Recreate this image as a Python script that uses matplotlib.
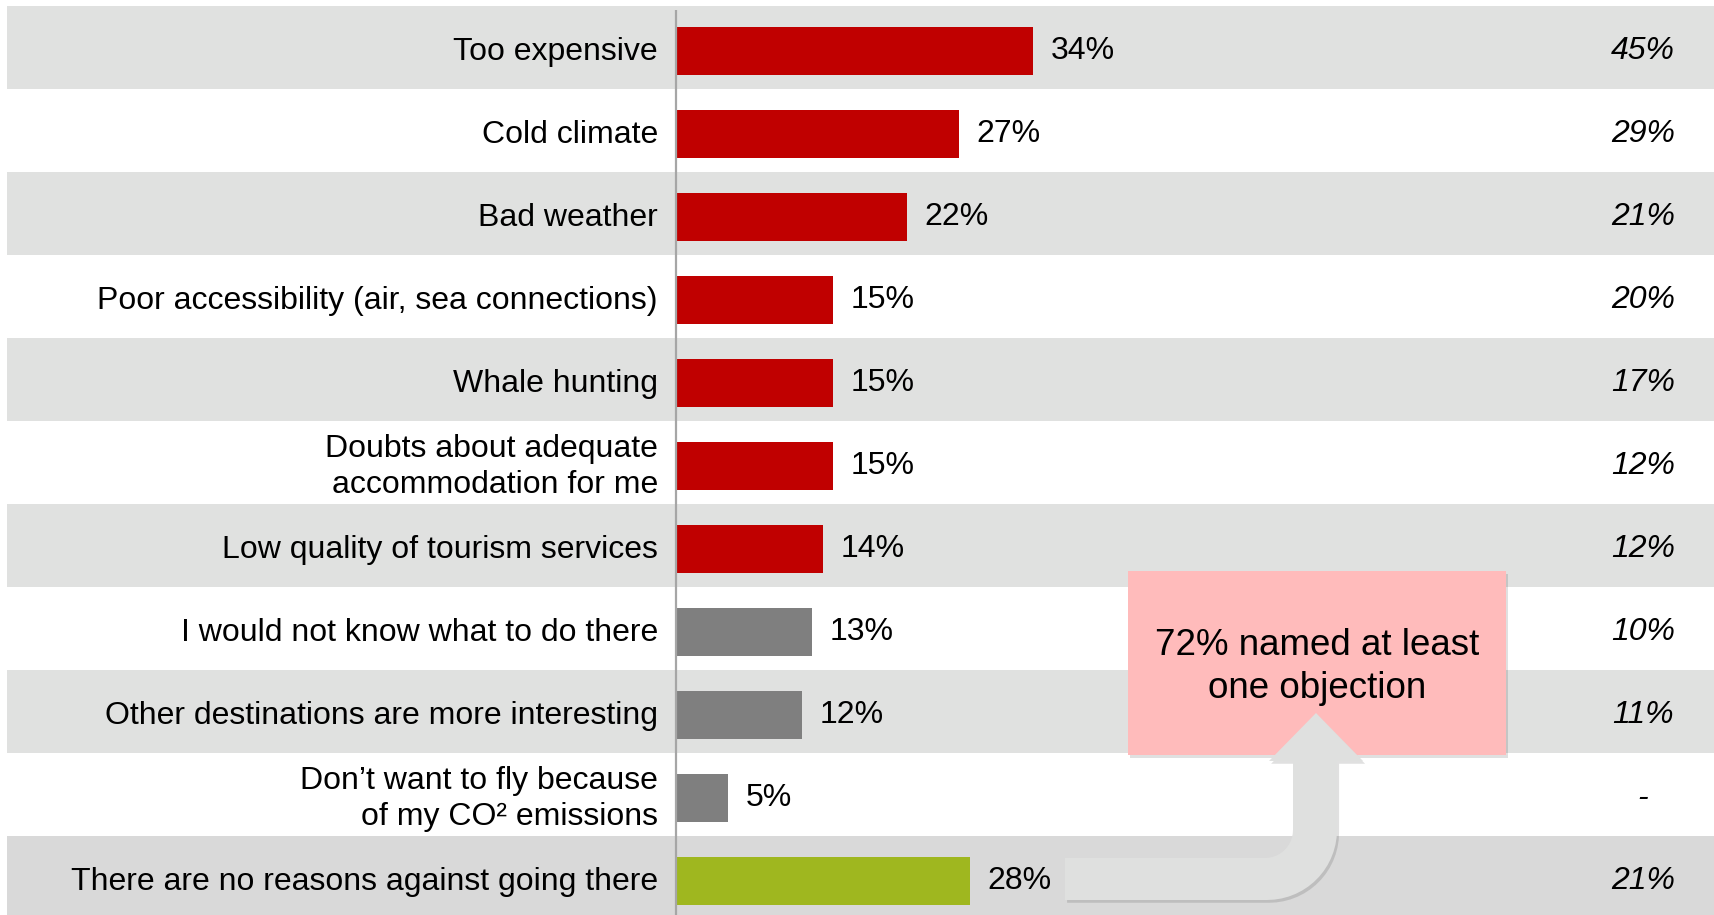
import matplotlib
matplotlib.use("Agg")
import matplotlib.pyplot as plt
import matplotlib.patheffects as pe
from matplotlib.patches import Rectangle, Polygon
import numpy as np

plt.rcParams['font.family'] = ['Liberation Sans', 'DejaVu Sans']

# data
categories = ['Too expensive',
              'Cold climate',
              'Bad weather',
              'Poor accessibility (air, sea connections)',
              'Whale hunting',
              'Doubts about adequate\naccommodation for me',
              'Low quality of tourism services',
              'I would not know what to do there',
              'Other destinations are more interesting',
              'Don\u2019t want to fly because\nof my CO\u00b2 emissions',
              'There are no reasons against going there']
values = [34, 27, 22, 15, 15, 15, 14, 13, 12, 5, 28]
previous = ['45%', '29%', '21%', '20%', '17%', '12%', '12%', '10%', '11%', '-', '21%']
groups = ['objection'] * 7 + ['other'] * 3 + ['none']
callout = '72% named at least\none objection'

group_colors = {'objection': '#C00000', 'other': '#7F7F7F', 'none': '#9FB71F'}

W, H = 1714, 915
fig = plt.figure(figsize=(W / 100, H / 100), dpi=100)

# main axes covers the whole figure, zero line at pixel 676, ~10.5 px per percent
ppp = 10.5
x0 = 676
row_h = 83
top = 6
ax = fig.add_axes([0, 0, 1, 1])
ax.set_xlim(-x0 / ppp, (W - x0) / ppp)
y_top = -0.5 - top / row_h
ax.set_ylim(y_top + H / row_h, y_top)
ax.axis('off')

n = len(categories)
y = np.arange(n)

# stripes
for i in range(n):
    if i % 2 == 0:
        c = '#D9D9D9' if i == n - 1 else '#E0E1E0'
        ax.add_patch(Rectangle((-x0 / ppp + 7 / ppp, i - 0.5), (W - 7) / ppp, 1,
                               facecolor=c, edgecolor='none', zorder=0))

cols = [group_colors[g] for g in groups]
ax.barh(y + 0.045, values, height=0.58, color=cols, zorder=2)
ax.vlines(0, -0.45, n, color='#A6A6A6', lw=1.6, zorder=3)

fs = 23
for i in range(n):
    ax.annotate(categories[i], (0, i + 0.05), xytext=(-13, 0), textcoords='offset points',
                ha='right', va='center', fontsize=fs, linespacing=1.25,
                multialignment='right')
    ax.annotate(f'{values[i]}%', (values[i], i + 0.045), xytext=(12.5, 0),
                textcoords='offset points', ha='left', va='center', fontsize=fs)
    ax.text(1643 / W, i + 0.04, previous[i], transform=ax.get_yaxis_transform(),
            ha='center', va='center', fontsize=fs, style='italic')

# overlay in pixel coordinates for the callout and arrow
ov = fig.add_axes([0, 0, 1, 1])
ov.set_xlim(0, W)
ov.set_ylim(H, 0)
ov.axis('off')
ov.patch.set_alpha(0)

shadow = [pe.withSimplePatchShadow(offset=(1.5, -2), shadow_rgbFace='black', alpha=0.12)]
box = Rectangle((1128, 571), 378, 184, facecolor='#FFBBBB', edgecolor='none',
                zorder=2, path_effects=shadow)
ov.add_patch(box)
ov.text(1317, 667, callout, ha='center', va='center', fontsize=26.5,
        linespacing=1.3, zorder=3)

# curved arrow outline
r_out, r_in = 70, 28
pts = [(1065, 858), (1293 - r_in, 858)]
cx, cy = 1293 - r_in, 858 - r_in
for t in np.linspace(np.pi / 2, 0, 12):
    pts.append((cx + r_in * np.cos(t), cy + r_in * np.sin(t)))
pts += [(1293, 761), (1269, 761), (1316, 713), (1363, 761), (1337, 761)]
cx, cy = 1337 - r_out, 900 - r_out
for t in np.linspace(0, np.pi / 2, 16):
    pts.append((cx + r_out * np.cos(t), cy + r_out * np.sin(t)))
pts.append((1065, 900))
arrow = Polygon(pts, closed=True, facecolor='#DFE0DF', edgecolor='none',
                zorder=4, path_effects=shadow)
ov.add_patch(arrow)

fig.savefig('out.png', dpi=100)
